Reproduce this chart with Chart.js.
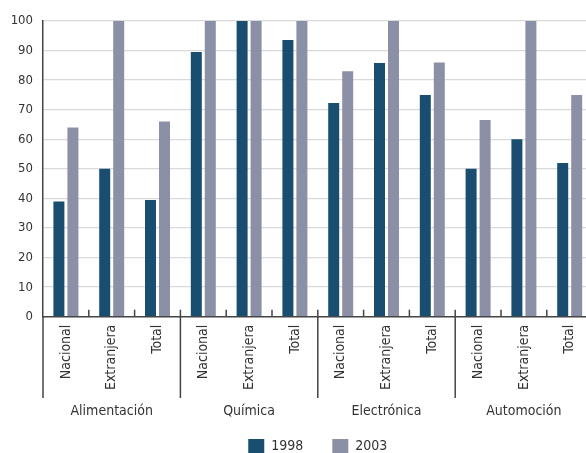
<!DOCTYPE html>
<html>
<head>
<meta charset="utf-8">
<script src="https://cdn.jsdelivr.net/npm/chart.js@4.4.1/dist/chart.umd.min.js"></script>
<style>
  html, body { margin: 0; padding: 0; background: #fff; }
  #wrap { width: 586px; height: 453px; overflow: hidden; position: relative; }
  canvas { display: block; }
</style>
</head>
<body>
<div id="wrap"><canvas id="chart" width="600" height="453"></canvas></div>
<script>
// Sectors and origin of capital for each sector
const sectors = ["Alimentación", "Química", "Electrónica", "Automoción"];
const origins = ["Nacional", "Extranjera", "Total"];
const years = ["1998", "2003"];

// Percentages, one value per sector/origin pair
const values1998 = [39, 50, 39.5, 89.5, 100, 93.6, 72.3, 85.8, 75, 50, 60, 52];
const values2003 = [64, 100, 66, 100, 100, 100, 83, 100, 86, 66.5, 100, 75];

// Y axis range and step
const yMin = 0;
const yMax = 100;
const yStep = 10;

const FONT = "'DejaVu Sans Condensed', 'DejaVu Sans', sans-serif";
const TEXT = "#333333";
const AXIS = "#444444";

const labels = sectors.flatMap(() => origins);

// Group separators, inner ticks and sector names under the category axis
const sectorAxis = {
  id: "sectorAxis",
  afterDraw(chart) {
    const { ctx, chartArea } = chart;
    const x = chart.scales.x;
    const n = labels.length;
    const step = (x.getPixelForValue(1) - x.getPixelForValue(0));
    const bottom = chartArea.bottom;
    const lineEnd = 398;
    ctx.save();
    ctx.strokeStyle = AXIS;
    ctx.lineWidth = 1.5;
    for (let i = 0; i <= n; i++) {
      const px = x.getPixelForValue(0) - step / 2 + i * step;
      ctx.beginPath();
      if (i % origins.length === 0) {
        ctx.moveTo(px, i === 0 ? bottom : bottom - 7);
        ctx.lineTo(px, lineEnd);
      } else {
        ctx.moveTo(px, bottom - 7);
        ctx.lineTo(px, bottom);
      }
      ctx.stroke();
    }
    ctx.fillStyle = TEXT;
    ctx.font = "14px " + FONT;
    ctx.textAlign = "center";
    ctx.textBaseline = "middle";
    sectors.forEach((s, g) => {
      const first = x.getPixelForValue(g * origins.length);
      const last = x.getPixelForValue(g * origins.length + origins.length - 1);
      ctx.fillText(s, (first + last) / 2, 411);
    });
    ctx.restore();
  }
};

new Chart(document.getElementById("chart"), {
  type: "bar",
  data: {
    labels: labels,
    datasets: [
      {
        label: years[0],
        data: values1998,
        backgroundColor: "#1a4e71",
        borderWidth: 0,
        barPercentage: 0.786,
        categoryPercentage: 0.611
      },
      {
        label: years[1],
        data: values2003,
        backgroundColor: "#8b90a6",
        borderWidth: 0,
        barPercentage: 0.786,
        categoryPercentage: 0.611
      }
    ]
  },
  options: {
    responsive: false,
    animation: false,
    devicePixelRatio: 1,
    layout: { padding: { top: 21, right: 7.4, left: 0, bottom: -11 } },
    plugins: {
      tooltip: { enabled: false },
      title: { display: false },
      legend: {
        position: "bottom",
        fullSize: false,
        labels: {
          boxWidth: 16,
          boxHeight: 15,
          padding: 29,
          color: TEXT,
          font: { family: FONT, size: 14 }
        }
      }
    },
    scales: {
      x: {
        grid: { display: false, drawTicks: false },
        border: { display: true, color: AXIS, width: 1.5 },
        ticks: {
          autoSkip: false,
          minRotation: 90,
          maxRotation: 90,
          padding: 8,
          color: TEXT,
          font: { family: FONT, size: 14 }
        },
        afterFit(scale) { scale.height = 93.3; }
      },
      y: {
        min: yMin,
        max: yMax,
        ticks: {
          stepSize: yStep,
          padding: 10,
          color: TEXT,
          font: { family: FONT, size: 13 }
        },
        grid: {
          drawTicks: false,
          lineWidth: 1.3,
          color: (c) => (c.tick && c.tick.value === 0 ? "rgba(0,0,0,0)" : "#dadada")
        },
        border: { display: true, color: AXIS, width: 1.5 },
        afterFit(scale) { scale.width = 43; }
      }
    }
  },
  plugins: [sectorAxis]
});
</script>
</body>
</html>
